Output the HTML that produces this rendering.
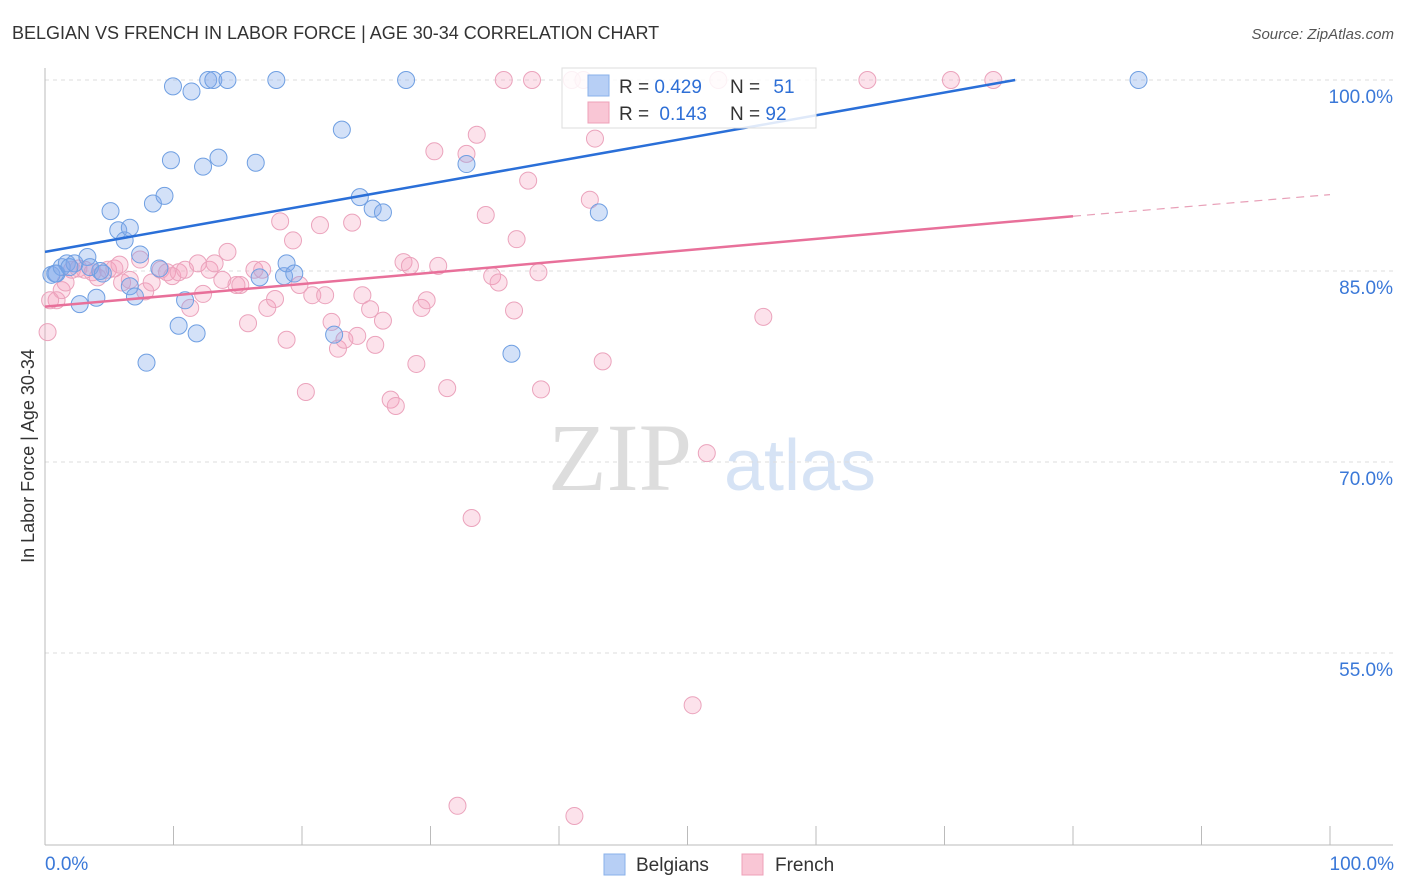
<!DOCTYPE html>
<html><head><meta charset="utf-8"><style>
body{margin:0;background:#fff;font-family:"Liberation Sans",sans-serif;}
svg{display:block}
</style></head><body>
<svg id="c" width="1406" height="892">
<text x="12" y="39" font-size="18" fill="#333">BELGIAN VS FRENCH IN LABOR FORCE | AGE 30-34 CORRELATION CHART</text>
<text x="1394" y="39" font-size="15" fill="#555" text-anchor="end" font-style="italic">Source: ZipAtlas.com</text>
<text x="620" y="490" font-size="96" fill="#ddd" font-family="Liberation Serif" text-anchor="middle">ZIP</text>
<text x="800" y="490" font-size="72" fill="#d6e3f5" text-anchor="middle">atlas</text>
<text transform="translate(34,456) rotate(-90)" font-size="18" fill="#333" text-anchor="middle">In Labor Force | Age 30-34</text>
<g id="grid"></g><g id="pts"></g><g id="lines"></g>
<g>
<rect x="562" y="68" width="254" height="60" fill="#fff" fill-opacity="0.85" stroke="#ddd"/>
<rect x="588" y="75" width="21" height="21" fill="#b7cff5" stroke="#8ab0ea"/>
<rect x="588" y="102" width="21" height="21" fill="#f9c6d5" stroke="#eea0b8"/>
<text x="619" y="93" font-size="19" fill="#333">R = <tspan fill="#2e6fd6">0.429</tspan></text>
<text x="730" y="93" font-size="19" fill="#333">N = <tspan fill="#2e6fd6" dx="8">51</tspan></text>
<text x="619" y="120" font-size="19" fill="#333">R = <tspan fill="#2e6fd6" dx="5">0.143</tspan></text>
<text x="730" y="120" font-size="19" fill="#333">N = <tspan fill="#2e6fd6">92</tspan></text>
</g>
<g>
<rect x="604" y="854" width="21" height="21" fill="#b7cff5" stroke="#8ab0ea"/>
<text x="636" y="871" font-size="19" fill="#333">Belgians</text>
<rect x="742" y="854" width="21" height="21" fill="#f9c6d5" stroke="#eea0b8"/>
<text x="775" y="871" font-size="19" fill="#333">French</text>
</g>
<text x="45" y="870" font-size="19" fill="#3a78d8">0.0%</text>
<text x="1394" y="870" font-size="19" fill="#3a78d8" text-anchor="end">100.0%</text>
</svg>
<script>
const yTicks=[100,85,70,55];
const yTickLabels=["100.0%","85.0%","70.0%","55.0%"];
const xTicks=[0,10,20,30,40,50,60,70,80,90,100];
const blueX=[0.5,0.9,1.3,1.7,2.3,3.3,2.7,4.0,4.3,5.1,5.7,6.2,6.6,7.4,7.9,8.4,8.9,9.3,9.8,9.96,10.4,10.9,11.4,11.8,12.3,12.7,13.1,13.5,14.2,16.4,16.7,18.0,18.6,18.8,19.4,22.5,23.1,24.5,25.5,26.3,28.1,32.8,36.3,43.1,85.1,0.8,3.5,1.9,4.5,6.6,7.0];
const blueY=[84.7,84.8,85.3,85.6,85.6,86.1,82.4,82.9,85.0,89.7,88.2,87.4,88.4,86.3,77.8,90.3,85.2,90.9,93.7,99.5,80.7,82.7,99.1,80.1,93.2,100,100,93.9,100,93.5,84.5,100,84.6,85.6,84.8,80.0,96.1,90.8,89.9,89.6,100,93.4,78.5,89.6,100,84.8,85.3,85.3,84.8,83.8,83.0];
const pinkX=[0.2,0.9,1.3,1.6,2.1,2.6,3.1,3.7,4.1,4.9,5.4,6.0,6.6,7.4,7.8,8.3,9.0,9.5,9.9,10.4,10.9,11.3,11.9,12.3,12.8,13.2,13.8,14.2,14.9,15.2,15.8,16.3,16.9,17.3,17.9,18.3,18.8,19.3,19.8,20.3,20.8,21.4,21.8,22.3,22.8,23.3,23.9,24.3,24.7,25.3,25.7,26.3,26.9,27.3,27.9,28.4,28.9,29.3,29.7,30.3,30.6,31.3,32.8,33.2,33.6,34.3,34.8,35.3,35.7,36.5,36.7,37.6,37.9,38.4,38.6,41.0,41.2,42.4,42.8,43.4,50.4,51.5,52.4,55.9,64.0,70.5,73.8,32.1,41.9,0.4,5.8];
const pinkY=[80.2,82.7,83.5,84.1,85.1,85.2,85.1,84.9,84.5,85.1,85.2,84.1,84.3,85.9,83.4,84.1,85.1,84.9,84.6,84.9,85.1,82.1,85.6,83.2,85.1,85.6,84.3,86.5,83.9,83.9,80.9,85.1,85.1,82.1,82.8,88.9,79.6,87.4,83.9,75.5,83.1,88.6,83.1,81.0,78.9,79.6,88.8,79.9,83.1,82.0,79.2,81.1,74.9,74.4,85.7,85.4,77.7,82.1,82.7,94.4,85.4,75.8,94.2,65.6,95.7,89.4,84.6,84.1,100,81.9,87.5,92.1,100,84.9,75.7,100,42.2,90.6,95.4,77.9,50.9,70.7,100,81.4,100,100,100,43.0,100,82.7,85.5];
const blueLine=[0,86.5,75.5,100];
const pinkLine=[0,82.2,80,89.3,100,91.0];
const X0=45,X1=1330,Y100=80,PX=12.733;
const sx=v=>X0+(X1-X0)*v/100, sy=v=>Y100+(100-v)*PX;
const NS="http://www.w3.org/2000/svg";
function mk(t,a,p){const e=document.createElementNS(NS,t);for(const k in a)e.setAttribute(k,a[k]);p.appendChild(e);return e;}
const g=document.getElementById('grid');
yTicks.forEach((v,i)=>{
 const l=mk('line',{x1:X0,x2:1393,y1:sy(v),y2:sy(v),stroke:'#ddd','stroke-dasharray':'4,4'},g);
 
 
 const t=mk('text',{x:1393,y:sy(v)+23,'font-size':19,fill:'#3a78d8','text-anchor':'end'},g);
 t.textContent=yTickLabels[i];
 
 
});
const ax=mk('line',{x1:X0,x2:X0,y1:68,y2:845,stroke:'#bbb'},g);


const bx=mk('line',{x1:X0,x2:1393,y1:845,y2:845,stroke:'#bbb'},g);


xTicks.forEach(v=>{
 const l=mk('line',{x1:sx(v),x2:sx(v),y1:826,y2:845,stroke:'#bbb'},g);
 
 
});
const p=document.getElementById('pts');
pinkX.forEach((x,i)=>{
 const c=mk('circle',{cx:sx(x),cy:sy(pinkY[i]),r:8.5,fill:'rgba(244,160,190,0.3)',stroke:'#eba3bc','stroke-width':1},p);
 
 
});
blueX.forEach((x,i)=>{
 const c=mk('circle',{cx:sx(x),cy:sy(blueY[i]),r:8.5,fill:'rgba(130,170,235,0.35)',stroke:'#6f9fe2','stroke-width':1},p);
 
 
});
const L=document.getElementById('lines');
const b=mk('line',{x1:sx(blueLine[0]),y1:sy(blueLine[1]),x2:sx(blueLine[2]),y2:sy(blueLine[3]),stroke:'#2a6fd8','stroke-width':2.5},L);


const q=mk('line',{x1:sx(pinkLine[0]),y1:sy(pinkLine[1]),x2:sx(pinkLine[2]),y2:sy(pinkLine[3]),stroke:'#e8709a','stroke-width':2.5},L);


const d=mk('line',{x1:sx(pinkLine[2]),y1:sy(pinkLine[3]),x2:sx(pinkLine[4]),y2:sy(pinkLine[5]),stroke:'#e8a0b8','stroke-width':1.2,'stroke-dasharray':'8,6'},L);


</script>
</body></html>
